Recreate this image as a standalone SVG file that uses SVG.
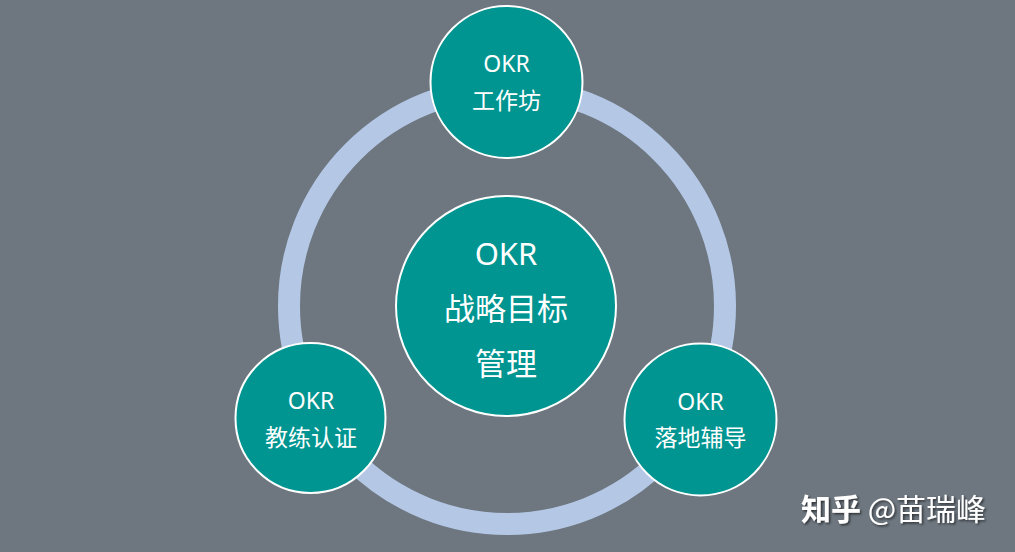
<svg xmlns="http://www.w3.org/2000/svg" width="1015" height="552" viewBox="0 0 1015 552">
<style>
.node{fill:#009591;stroke:#ffffff;stroke-width:2}
.t{font-family:"Noto Sans","Noto Sans CJK SC",sans-serif;fill:#ffffff;text-anchor:middle}
.s{font-size:23px}
.l{font-size:31px}
.wm{font-family:"Noto Sans CJK SC",sans-serif;font-size:30px;fill:#ffffff}
</style>
<defs>
<filter id="sh" x="-10%" y="-20%" width="120%" height="150%">
<feDropShadow dx="1.5" dy="1.5" stdDeviation="0.8" flood-color="#000000" flood-opacity="0.6"/>
</filter>
</defs>
<rect width="1015" height="552" fill="#6e7780"/>
<g id="connectors">
<circle cx="507" cy="306" r="218" fill="none" stroke="#b4c8e6" stroke-width="22"/>
</g>
<g id="center">
<circle class="node" cx="506" cy="306" r="110"/>
<text class="t l" x="506" y="265">OKR</text>
<text class="t l" x="506" y="320">战略目标</text>
<text class="t l" x="506" y="375">管理</text>
</g>
<g id="top">
<circle class="node" cx="506.5" cy="82" r="76"/>
<text class="t s" x="506.5" y="72">OKR</text>
<text class="t s" x="506.5" y="109">工作坊</text>
</g>
<g id="left">
<circle class="node" cx="310.5" cy="418" r="75"/>
<text class="t s" x="311" y="409">OKR</text>
<text class="t s" x="311" y="446">教练认证</text>
</g>
<g id="right">
<circle class="node" cx="700.5" cy="419.5" r="76"/>
<text class="t s" x="700.5" y="410">OKR</text>
<text class="t s" x="700.5" y="446">落地辅导</text>
</g>
<g id="watermark" filter="url(#sh)">
<text class="wm" x="801" y="520"><tspan font-weight="bold">知乎</tspan> @苗瑞峰</text>
</g>
</svg>
